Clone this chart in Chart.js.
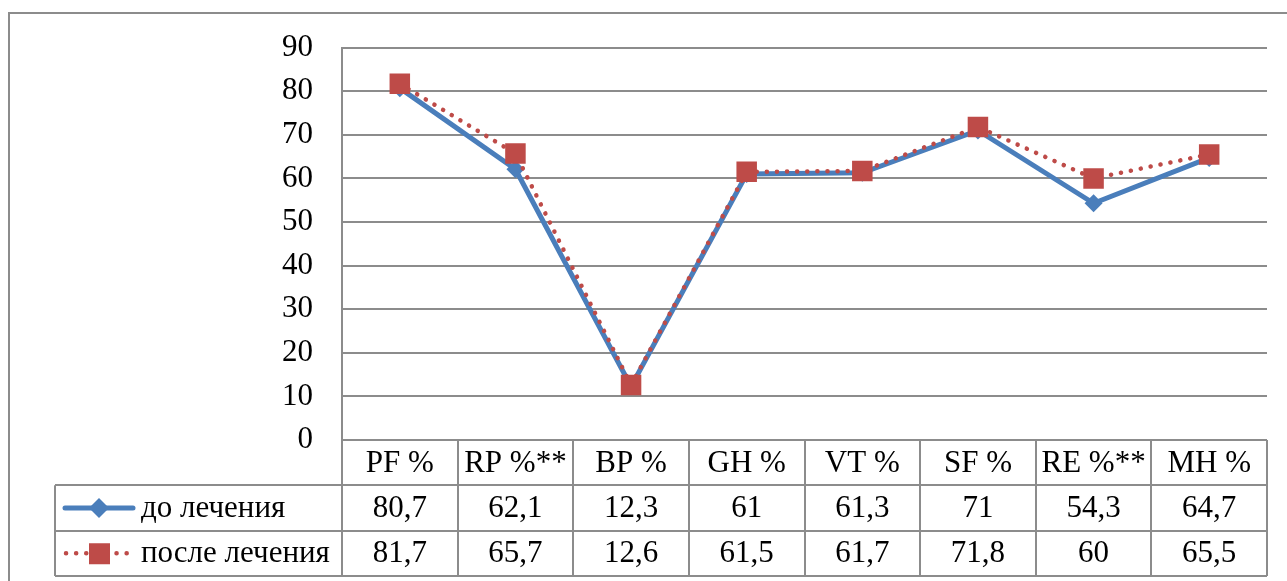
<!DOCTYPE html>
<html>
<head>
<meta charset="utf-8">
<script src="https://cdn.jsdelivr.net/npm/chart.js@4/dist/chart.umd.min.js"></script>
<style>
  html, body { margin: 0; padding: 0; background: #fff; }
  #wrap { width: 1287px; height: 581px; position: relative; }
</style>
</head>
<body>
<div id="wrap"><canvas id="chart" width="1287" height="581"></canvas></div>
<script>
// categories and series
const categories = ["PF %", "RP %**", "BP %", "GH %", "VT %", "SF %", "RE %**", "MH %"];
const seriesNames = ["до лечения", "после лечения"];
const beforeVals = [80.7, 62.1, 12.3, 61, 61.3, 71, 54.3, 64.7];
const afterVals = [81.7, 65.7, 12.6, 61.5, 61.7, 71.8, 60, 65.5];
const yMin = 0, yMax = 90, yStep = 10;

const BLUE = "#4A7EBB";
const RED = "#BE4B48";
const GRID = "#8c8c8c";
const FAMILY = "'Liberation Serif', serif";
const FONT = "31px " + FAMILY;

function fmt(v) { return String(v).replace(".", ","); }

// frame + data table under the plot
const tablePlugin = {
  id: "dataTable",
  beforeDraw(chart) {
    const ctx = chart.ctx;
    ctx.save();
    ctx.strokeStyle = GRID;
    ctx.lineWidth = 2;
    ctx.beginPath();
    ctx.moveTo(9, chart.height + 5);
    ctx.lineTo(9, 13);
    ctx.lineTo(chart.width + 5, 13);
    ctx.stroke();
    ctx.restore();
  },
  afterDraw(chart) {
    const ctx = chart.ctx;
    const area = chart.chartArea;
    const xs = chart.scales.x;
    const n = categories.length;
    const colW = (area.right - area.left) / n;
    const rowH = 45.3;
    const top = area.bottom;
    const bottom = top + rowH * 3;
    const legLeft = 55;

    ctx.save();
    ctx.strokeStyle = GRID;
    ctx.lineWidth = 2;
    ctx.beginPath();
    // horizontal lines
    for (let r = 1; r <= 3; r++) {
      const y = Math.round(top + rowH * r);
      ctx.moveTo(legLeft, y);
      ctx.lineTo(area.right, y);
    }
    // vertical column lines
    for (let i = 0; i <= n; i++) {
      const x = Math.round(area.left + colW * i);
      ctx.moveTo(x, top);
      ctx.lineTo(x, bottom);
    }
    ctx.moveTo(legLeft, top + rowH);
    ctx.lineTo(legLeft, bottom);
    ctx.stroke();

    // texts
    ctx.fillStyle = "#000";
    ctx.font = FONT;
    ctx.textAlign = "center";
    ctx.textBaseline = "middle";
    categories.forEach((c, i) => {
      const cx = xs.getPixelForValue(i);
      ctx.fillText(c, cx, top + rowH * 0.5 + 1);
      ctx.fillText(fmt(beforeVals[i]), cx, top + rowH * 1.5 + 1);
      ctx.fillText(fmt(afterVals[i]), cx, top + rowH * 2.5 + 1);
    });

    // legend keys
    const y1 = top + rowH * 1.5;
    const y2 = top + rowH * 2.5;
    ctx.lineCap = "round";
    ctx.strokeStyle = BLUE;
    ctx.lineWidth = 5;
    ctx.beginPath();
    ctx.moveTo(65, y1);
    ctx.lineTo(133, y1);
    ctx.stroke();
    ctx.fillStyle = BLUE;
    ctx.beginPath();
    ctx.moveTo(99, y1 - 10);
    ctx.lineTo(109, y1);
    ctx.lineTo(99, y1 + 10);
    ctx.lineTo(89, y1);
    ctx.closePath();
    ctx.fill();

    ctx.strokeStyle = RED;
    ctx.lineWidth = 4.5;
    ctx.setLineDash([0.1, 10]);
    ctx.beginPath();
    ctx.moveTo(66, y2);
    ctx.lineTo(134, y2);
    ctx.stroke();
    ctx.setLineDash([]);
    ctx.fillStyle = RED;
    ctx.fillRect(89, y2 - 10, 21, 21);

    ctx.fillStyle = "#000";
    ctx.textAlign = "left";
    ctx.fillText(seriesNames[0], 141, y1 + 1);
    ctx.fillText(seriesNames[1], 141, y2 + 1);
    ctx.restore();
  }
};

const config = {
  type: "line",
  data: {
    labels: categories,
    datasets: [
      {
        label: seriesNames[0],
        data: beforeVals,
        borderColor: BLUE,
        backgroundColor: BLUE,
        borderWidth: 5,
        pointStyle: "rectRot",
        pointRadius: 9,
        pointBorderWidth: 0,
        tension: 0,
        order: 2
      },
      {
        label: seriesNames[1],
        data: afterVals,
        borderColor: RED,
        backgroundColor: RED,
        borderWidth: 4.5,
        borderDash: [0.1, 10],
        borderCapStyle: "round",
        pointStyle: "rect",
        pointRadius: 14.5,
        pointBorderWidth: 0,
        tension: 0,
        order: 1
      }
    ]
  },
  options: {
    responsive: false,
    animation: false,
    layout: { padding: { left: 0, top: 45, right: 20, bottom: 141 } },
    plugins: { legend: { display: false }, tooltip: { enabled: false } },
    scales: {
      x: {
        offset: true,
        ticks: { display: false },
        grid: { display: false, drawTicks: false },
        border: { display: false },
        afterFit: s => { s.height = 0; }
      },
      y: {
        min: yMin,
        max: yMax,
        ticks: {
          stepSize: yStep,
          color: "#000",
          padding: 29,
          font: { family: FAMILY, size: 31 }
        },
        grid: { color: GRID, lineWidth: 2, drawTicks: false },
        border: { display: true, color: GRID, width: 2 },
        afterFit: s => { s.width = 342; }
      }
    }
  },
  plugins: [tablePlugin]
};

const myChart = new Chart(document.getElementById("chart"), config);
if (document.fonts && document.fonts.ready) {
  document.fonts.ready.then(() => myChart.update());
}
</script>
</body>
</html>
